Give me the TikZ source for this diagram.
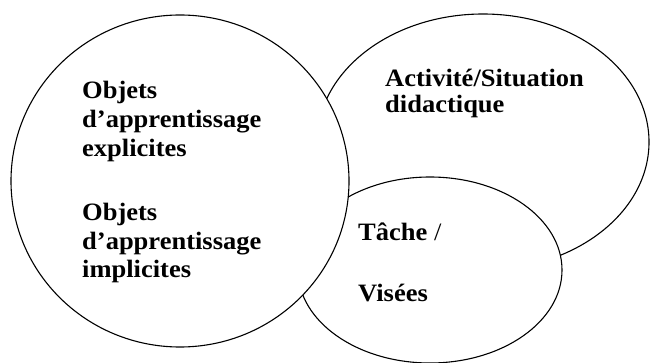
\documentclass[tikz,border=0pt]{standalone}
\usepackage{fontspec}
\setmainfont{Liberation Serif}[FakeStretch=1.06]
\usetikzlibrary{shapes.geometric}
\begin{document}
\begin{tikzpicture}[x=1pt,y=-1pt,
  zone/.style={ellipse,draw=black,fill=white,line width=1.1pt,inner sep=0pt},
  lbl/.style={anchor=base west,inner sep=0pt,font=\fontsize{25}{29}\selectfont\bfseries}]
\useasboundingbox (0,0) rectangle (652,363);
% layers: top-right, bottom, left
\node[zone,minimum width=332pt,minimum height=256pt] (act) at (483,142) {};
\node[zone,minimum width=264pt,minimum height=186pt] (tache) at (430,270) {};
\node[zone,minimum width=338pt,minimum height=332pt] (objets) at (180,181) {};
% left texts
\node[lbl] (o1) at (82,99) {Objets};
\node[lbl] (o2) at (82,128) {d’apprentissage};
\node[lbl] (o3) at (82,157) {explicites};
\node[lbl] (o4) at (82,220) {Objets};
\node[lbl] (o5) at (82,249) {d’apprentissage};
\node[lbl] (o6) at (82,277) {implicites};
% top-right texts
\node[lbl] (a1) at (385,87) {Activité/Situation};
\node[lbl] (a2) at (385,113) {didactique};
% bottom texts
\node[lbl] (t1) at (358,240) {Tâche \mdseries/};
\node[lbl] (t2) at (358,301) {Visées};
\end{tikzpicture}
\end{document}
